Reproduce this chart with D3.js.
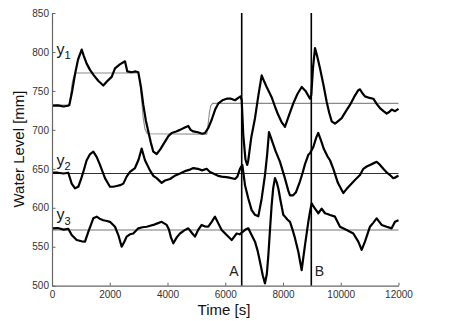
<!DOCTYPE html>
<html>
<head>
<meta charset="utf-8">
<script src="https://cdn.jsdelivr.net/npm/d3@7"></script>
<style>
  html, body { margin: 0; padding: 0; background: #fff; }
  svg { display: block; font-family: "Liberation Sans", Arial, sans-serif; }
</style>
</head>
<body>
<svg id="chart" width="452" height="321"></svg>
<script>
// ---- data (time in s, water level in mm) ----
const xTicks = [0, 2000, 4000, 6000, 8000, 10000, 12000];
const yTicks = [500, 550, 600, 650, 700, 750, 800, 850];

const y1Data = [
  [0,731],[200,731.5],[400,730],[550,731],[600,732],[700,750],[800,772],[900,790],[1028,803],[1100,795],
  [1200,785],[1316,777],[1450,770],[1600,763],[1777,757],[1900,762],[2067,768],[2182,779],[2350,784],[2528,788],
  [2608,775],[2750,774],[2900,775],[2989,774],[3080,755],[3162,732],[3250,712],[3335,698],[3420,684],[3508,672],
  [3625,669],[3750,675],[3913,685],[4030,692],[4145,696],[4300,698],[4433,700],[4600,703],[4721,705],[4800,700],
  [4894,698],[5050,697],[5200,695],[5298,696],[5420,703],[5530,713],[5650,726],[5761,734],[5900,738],[6050,740],
  [6200,740],[6337,738],[6450,741],[6530,743],[6570,738],[6625,693],[6700,662],[6760,655],[6798,661],[6900,690],
  [7030,715],[7150,745],[7262,770],[7350,762],[7434,755],[7607,742],[7720,730],[7837,719],[7950,710],[8070,704],
  [8200,718],[8357,734],[8500,746],[8647,755],[8780,750],[8935,740],[8980,745],[9040,780],[9108,805],[9180,795],
  [9281,779],[9400,758],[9512,736],[9600,722],[9685,711],[9800,708],[9900,711],[10032,715],[10180,724],[10320,732],
  [10460,742],[10608,751],[10666,752],[10750,747],[10839,743],[11000,741],[11127,740],[11250,733],[11358,728],[11480,724],
  [11590,721],[11680,723],[11763,726],[11880,724],[12000,727]
];

const y2Data = [
  [0,645],[200,645],[400,644],[564,645],[682,631],[797,625],[911,627],[1000,636],[1084,646],[1200,661],
  [1320,669],[1431,672],[1550,665],[1662,655],[1835,638],[2008,627],[2120,627],[2240,628],[2360,629],[2470,631],
  [2585,640],[2700,646],[2874,651],[3000,662],[3105,676],[3220,661],[3393,648],[3510,641],[3625,638],[3798,632],
  [3913,635],[4086,637],[4250,641],[4433,644],[4600,647],[4779,649],[4900,651],[5050,650],[5200,648],[5357,650],
  [5470,646],[5587,644],[5750,641],[5876,640],[6100,639],[6337,637],[6420,640],[6510,650],[6591,655],[6685,629],
  [6798,612],[6914,597],[7030,591],[7145,589],[7262,612],[7376,642],[7450,668],[7515,697],[7620,686],[7740,673],
  [7896,659],[8050,640],[8183,622],[8242,616],[8350,616],[8450,620],[8589,634],[8680,645],[8762,656],[8877,668],
  [8935,670],[9050,678],[9150,690],[9220,696],[9300,688],[9420,675],[9540,666],[9628,661],[9743,650],[9900,632],
  [10088,619],[10200,624],[10320,629],[10500,636],[10666,642],[10782,650],[10900,653],[11012,655],[11130,657],[11243,659],
  [11360,655],[11474,650],[11600,645],[11705,642],[11820,638],[11900,639],[11935,640],[12000,641]
];

const y3Data = [
  [0,573.5],[200,574],[400,572],[564,573],[682,565],[855,558.6],[1028,557],[1143,556.5],[1257,569],[1431,586.5],
  [1546,588.6],[1650,586],[1777,584],[1900,583],[2008,582],[2182,575.7],[2297,565],[2413,550],[2500,556],[2585,563],
  [2700,566],[2816,567],[2989,573.6],[3130,575],[3278,575.7],[3400,577],[3509,578],[3650,580],[3798,582],[3971,578],
  [4050,572],[4120,562],[4202,554.4],[4320,562],[4433,567],[4580,571],[4721,573.6],[4840,568],[4952,563],[5070,572],
  [5183,578],[5300,576],[5413,575.7],[5530,582],[5645,588.6],[5760,580],[5876,571.5],[6050,565],[6223,558.6],[6395,567],
  [6500,566],[6570,568],[6700,572],[6798,573.6],[6900,566],[7030,556.5],[7120,545],[7203,530.8],[7300,513],[7376,503],
  [7440,515],[7492,539],[7550,572],[7607,603.6],[7660,625],[7722,638],[7780,633],[7837,625],[7920,608],[8010,591],
  [8070,588.6],[8150,585],[8242,582],[8330,572],[8415,561],[8530,543.6],[8646,520],[8700,535],[8762,552],[8877,582],
  [8935,595],[8993,605.7],[9050,602],[9108,599],[9223,593],[9339,599],[9454,593],[9540,592],[9628,590.7],[9800,588.6],
  [9973,575.7],[10205,571.5],[10436,567],[10608,556.5],[10724,546],[10839,556.5],[11012,575.7],[11130,581],[11243,586.5],[11417,578],
  [11590,575.7],[11763,573.6],[11878,582],[12000,584]
];

const y1Setpoint = [
  [0,732],[600,732],[650,745],[700,760],[750,768],[830,773],[2990,773],[3040,764],[3100,740],[3160,715],
  [3220,701],[3300,695],[5360,694.5],[5400,705],[5450,722],[5500,731],[5560,734],[12000,734]
];
const y2Setpoint = 644;
const y3Setpoint = 571.5;

const events = [{label: "A", t: 6570}, {label: "B", t: 8980}];

// ---- chart ----
const svg = d3.select("#chart");
const x = d3.scaleLinear().domain([0, 12000]).range([52, 398.5]);
const y = d3.scaleLinear().domain([500, 850]).range([285.7, 13]);

const line = d3.line().x(d => x(d[0])).y(d => y(d[1]));

// setpoint lines
svg.append("path").datum(y1Setpoint).attr("d", line)
  .attr("fill", "none").attr("stroke", "#8a8a8a").attr("stroke-width", 1.1);
svg.append("path").datum([[0, y2Setpoint], [12000, y2Setpoint]]).attr("d", line)
  .attr("fill", "none").attr("stroke", "#333").attr("stroke-width", 1.1);
svg.append("path").datum([[0, y3Setpoint], [12000, y3Setpoint]]).attr("d", line)
  .attr("fill", "none").attr("stroke", "#777").attr("stroke-width", 1.1);

// measured series
[y1Data, y2Data, y3Data].forEach(s => {
  svg.append("path").datum(s).attr("d", line)
    .attr("fill", "none").attr("stroke", "#000").attr("stroke-width", 2.2)
    .attr("stroke-linejoin", "round");
});

// event lines
events.forEach(e => {
  svg.append("line")
    .attr("x1", x(e.t)).attr("x2", x(e.t))
    .attr("y1", y(850)).attr("y2", y(500))
    .attr("stroke", "#000").attr("stroke-width", 1.6);
});
svg.append("text").attr("x", x(6570) - 3).attr("y", 275.5)
  .attr("text-anchor", "end").attr("font-size", 14).attr("fill", "#222").text("A");
svg.append("text").attr("x", x(8980) + 3.5).attr("y", 275.5)
  .attr("text-anchor", "start").attr("font-size", 14).attr("fill", "#222").text("B");

// series labels
function seriesLabel(sub, bx, by) {
  const t = svg.append("text").attr("x", bx).attr("y", by).attr("fill", "#111");
  t.append("tspan").attr("font-size", 16).text("y");
  t.append("tspan").attr("font-size", 11).attr("dy", 4.5).text(sub);
}
seriesLabel("1", 56.5, 54.5);
seriesLabel("2", 56.5, 165.5);
seriesLabel("3", 56.5, 220);

// axes
const gy = svg.append("g").attr("transform", `translate(${x(0)},0)`)
  .call(d3.axisLeft(y).tickValues(yTicks).tickSize(-3.5).tickSizeOuter(0).tickPadding(3));
const gx = svg.append("g").attr("transform", `translate(0,${y(500)})`)
  .call(d3.axisBottom(x).tickValues(xTicks).tickSize(-3).tickSizeOuter(0).tickPadding(5)
    .tickFormat(d3.format("d")));
[gy, gx].forEach(g => {
  g.select(".domain").attr("stroke", "#666").attr("stroke-width", 1.2);
  g.selectAll(".tick line").attr("stroke", "#666");
  g.selectAll(".tick text").attr("font-size", 10).attr("fill", "#333")
    .attr("font-family", "'Liberation Sans', Arial, sans-serif");
});

// axis titles
svg.append("text").attr("x", 224).attr("y", 314.5).attr("text-anchor", "middle")
  .attr("font-size", 15).attr("fill", "#111").text("Time [s]");
svg.append("text").attr("transform", "translate(24,149) rotate(-90)")
  .attr("text-anchor", "middle").attr("font-size", 15).attr("fill", "#111").text("Water Level [mm]");
</script>
</body>
</html>
